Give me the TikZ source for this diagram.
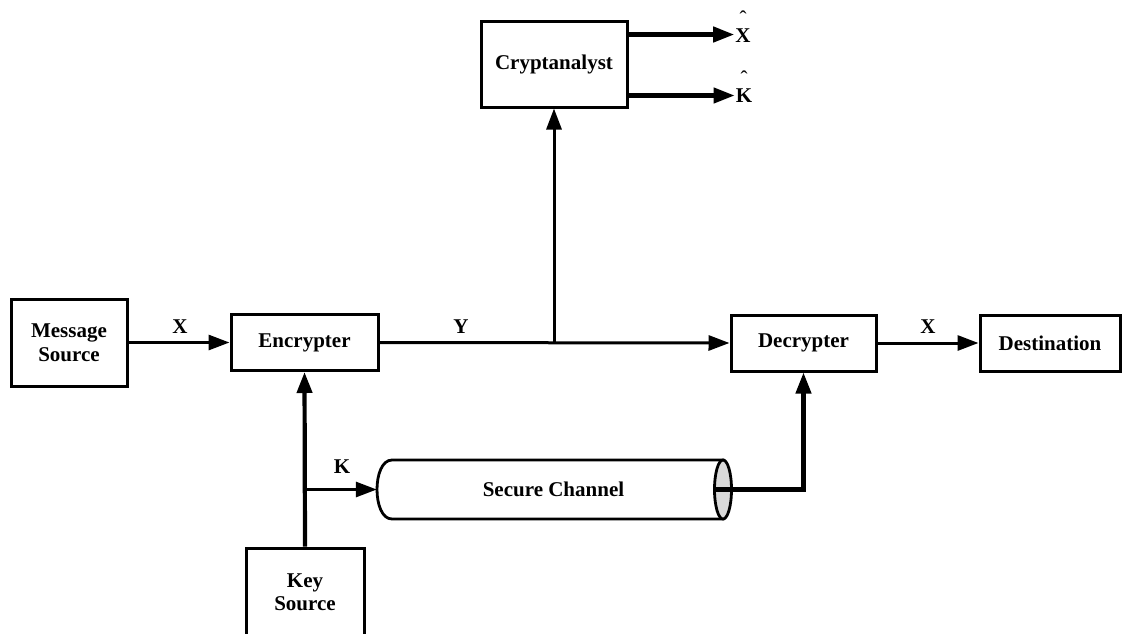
\documentclass[tikz,border=0pt]{standalone}
\usepackage{fontspec}
\setmainfont{Liberation Serif}
\usetikzlibrary{arrows.meta,calc}
\begin{document}
\begin{tikzpicture}[x=1pt,y=-1pt,
  txt/.style={font=\fontsize{21}{23.5}\selectfont\bfseries},
  box/.style={txt,draw,line width=3pt,rectangle,align=center,inner sep=0pt},
  lbl/.style={txt,inner sep=0pt},
  hatlbl/.style={txt,inner sep=0pt,align=center,anchor=south},
  tip/.style={-{Triangle[length=21pt,width=15pt]}},
  conn/.style={line width=3pt,tip},
  heavy/.style={line width=4.2pt,tip},
  pipe/.style={line width=2.8pt}]
\useasboundingbox (0,0) rectangle (1125,633);
\clip (0,0) rectangle (1125,633);

% blocks
\node[box,minimum width=116pt,minimum height=87pt] (msg)   at (69,342.5)   {Message\\Source};
\node[box,minimum width=147pt,minimum height=56pt] (enc)   at (304.5,342.5) {Encrypter};
\node[box,minimum width=145pt,minimum height=56pt] (dec)   at (803.5,343)   {Decrypter};
\node[box,minimum width=140pt,minimum height=56pt] (dst)   at (1050,343)    {Destination};
\node[box,minimum width=146pt,minimum height=86pt] (crypt) at (554,64)      {Cryptanalyst};
\node[box,minimum width=118pt,minimum height=88pt] (key)   at (305,592)     {Key\\Source};

% secure channel: a cylinder lying on its side, shaded end on the right
\draw[pipe,fill=white] (392,460) -- (723,460) -- (723,519) -- (392,519)
  .. controls (372,519) and (372,460) .. (392,460) -- cycle;
\draw[pipe,fill=gray!30] (723,489.5) ellipse [x radius=8.5pt, y radius=29.5pt];
\node[txt,minimum width=353pt,minimum height=59pt,inner sep=0pt] (chan) at (553.5,489.5) {Secure Channel};

% labels
\node[lbl] (x1) at (180,327) {X};
\node[lbl] (y1) at (461,327) {Y};
\node[lbl] (x2) at (928,327) {X};
\node[lbl] (k1) at (342,467) {K};
\node[hatlbl] (xh) at (743,43)  {{\mdseries ˆ}\\[-6pt]X};
\node[hatlbl] (kh) at (744,103) {{\mdseries ˆ}\\[-6pt]K};

% connectors
\coordinate (split) at (crypt.south |- enc.east);
\coordinate (kb) at (key.north |- chan.west);
\coordinate (xo) at ([yshift=-15pt]crypt.north east);
\coordinate (ko) at ([yshift=13pt]crypt.south east);
\draw[conn] (msg.east |- enc.west) -- (enc.west);
\draw[conn] (enc.east) -- (dec.west);
\draw[conn] (split) -- (crypt.south);
\draw[conn] (dec.east) -- (dst.west);
\draw[heavy] (xo) -- ([xshift=-1pt]xo -| xh.west);
\draw[heavy] (ko) -- ([xshift=-1pt]ko -| kh.west);
\draw[heavy] (key.north) -- (enc.south);
\draw[conn] (kb) -- (chan.west);
\draw[heavy] ([xshift=-17pt]chan.east) -| (dec.south);
\end{tikzpicture}
\end{document}
